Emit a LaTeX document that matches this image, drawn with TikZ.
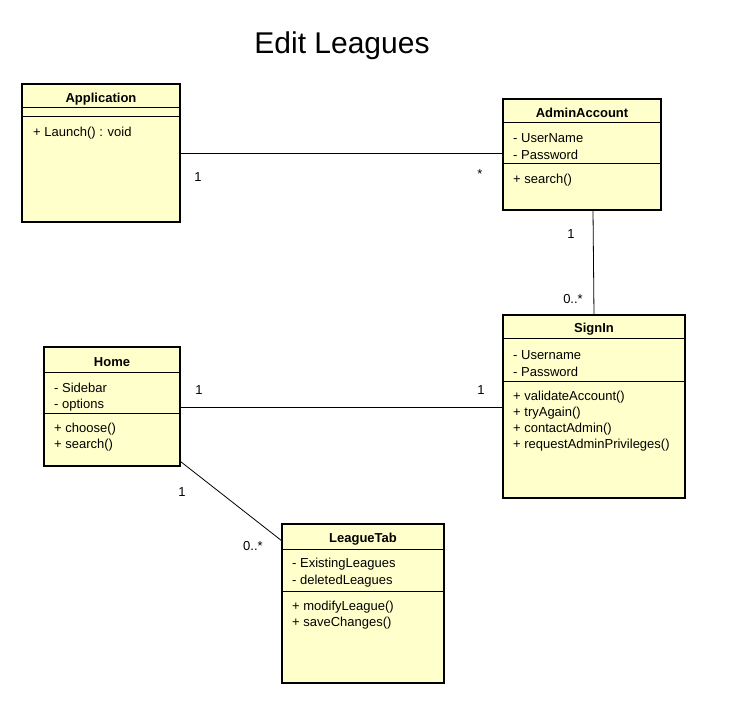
\documentclass[tikz,border=0pt]{standalone}
\usepackage{fontspec}
\setmainfont{Liberation Sans}
\definecolor{umlfill}{HTML}{FFFFCC}
\tikzset{
  x=1pt,y=-1pt,
  umlbox/.style={draw=black,line width=2pt,fill=umlfill},
  sepline/.style={draw=black,line width=1pt},
  hdr/.style={font=\fontsize{13}{15}\selectfont\bfseries,inner sep=0pt,yshift=-1.5pt},
  mem/.style={font=\fontsize{13}{15}\selectfont,inner sep=0pt,anchor=west,yshift=-1.5pt},
  mult/.style={font=\fontsize{13}{15}\selectfont,inner sep=0pt,yshift=-1.5pt},
  assoc/.style={draw=black,line width=0.8pt}
}
\begin{document}
\begin{tikzpicture}
\useasboundingbox (0,0) rectangle (731,711);
\node[font=\fontsize{30}{33}\selectfont,inner sep=0pt,yshift=-2.5pt] (title) at (342,43) {Edit Leagues};

% Application
\path[umlbox] (22,84) rectangle (180,222);
\node[draw=none,minimum width=158pt,minimum height=138pt,inner sep=0pt,anchor=north west] (app) at (22,84) {};
\draw[sepline] (22,108) -- (180,108);
\draw[sepline] (22,117) -- (180,117);
\node[hdr] (appt) at (101,97.5) {Application};
\node[mem] (appm1) at (33,131.5) {+ Launch() : void};

% AdminAccount
\path[umlbox] (503,99) rectangle (661,210);
\node[draw=none,minimum width=158pt,minimum height=111pt,inner sep=0pt,anchor=north west] (adm) at (503,99) {};
\draw[sepline] (503,123) -- (661,123);
\draw[sepline] (503,164) -- (661,164);
\node[hdr] (admt) at (582,111.5) {AdminAccount};
\node[mem] (adma1) at (513,136.5) {- UserName};
\node[mem] (adma2) at (513,153.5) {- Password};
\node[mem] (admm1) at (513,178.5) {+ search()};

% SignIn
\path[umlbox] (503,315) rectangle (685,498);
\node[draw=none,minimum width=182pt,minimum height=183pt,inner sep=0pt,anchor=north west] (sgn) at (503,315) {};
\draw[sepline] (503,339) -- (685,339);
\draw[sepline] (503,381) -- (685,381);
\node[hdr] (sgnt) at (594,327.5) {SignIn};
\node[mem] (sgna1) at (513,353.5) {- Username};
\node[mem] (sgna2) at (513,370.5) {- Password};
\node[mem] (sgnm1) at (513,395.5) {+ validateAccount()};
\node[mem] (sgnm2) at (513,411.5) {+ tryAgain()};
\node[mem] (sgnm3) at (513,427.5) {+ contactAdmin()};
\node[mem] (sgnm4) at (513,443.5) {+ requestAdminPrivileges()};

% Home
\path[umlbox] (44,347) rectangle (180,466);
\node[draw=none,minimum width=136pt,minimum height=119pt,inner sep=0pt,anchor=north west] (home) at (44,347) {};
\draw[sepline] (44,372) -- (180,372);
\draw[sepline] (44,413) -- (180,413);
\node[hdr] (homet) at (112,360.5) {Home};
\node[mem] (homea1) at (54,386.5) {- Sidebar};
\node[mem] (homea2) at (54,403.5) {- options};
\node[mem] (homem1) at (54,427.5) {+ choose()};
\node[mem] (homem2) at (54,443.5) {+ search()};

% LeagueTab
\path[umlbox] (282,524) rectangle (444,683);
\node[draw=none,minimum width=162pt,minimum height=159pt,inner sep=0pt,anchor=north west] (lt) at (282,524) {};
\draw[sepline] (282,549) -- (444,549);
\draw[sepline] (282,591) -- (444,591);
\node[hdr] (ltt) at (363,537.5) {LeagueTab};
\node[mem] (lta1) at (292,562.5) {- ExistingLeagues};
\node[mem] (lta2) at (292,579.5) {- deletedLeagues};
\node[mem] (ltm1) at (292,605.5) {+ modifyLeague()};
\node[mem] (ltm2) at (292,621.5) {+ saveChanges()};

% Associations
\draw[assoc] (app.east |- 0,153) -- (adm.west |- 0,153);
\node[mult] (m1) at (198,175.5) {1};
\node[mult] (m2) at (480,173) {*};

\draw[assoc] (593,210) -- (594,315);
\node[mult] (m3) at (571,232.5) {1};
\node[mult] (m4) at (573,297.5) {0..*};

\draw[assoc] (home.east |- 0,407) -- (sgn.west |- 0,407);
\node[mult] (m5) at (199,388.5) {1};
\node[mult] (m6) at (481,388.5) {1};

\draw[assoc] (home.south east) ++(0,-5) -- (lt.west |- 0,541);
\node[mult] (m7) at (182,490.5) {1};
\node[mult] (m8) at (253,544.5) {0..*};
\end{tikzpicture}
\end{document}
